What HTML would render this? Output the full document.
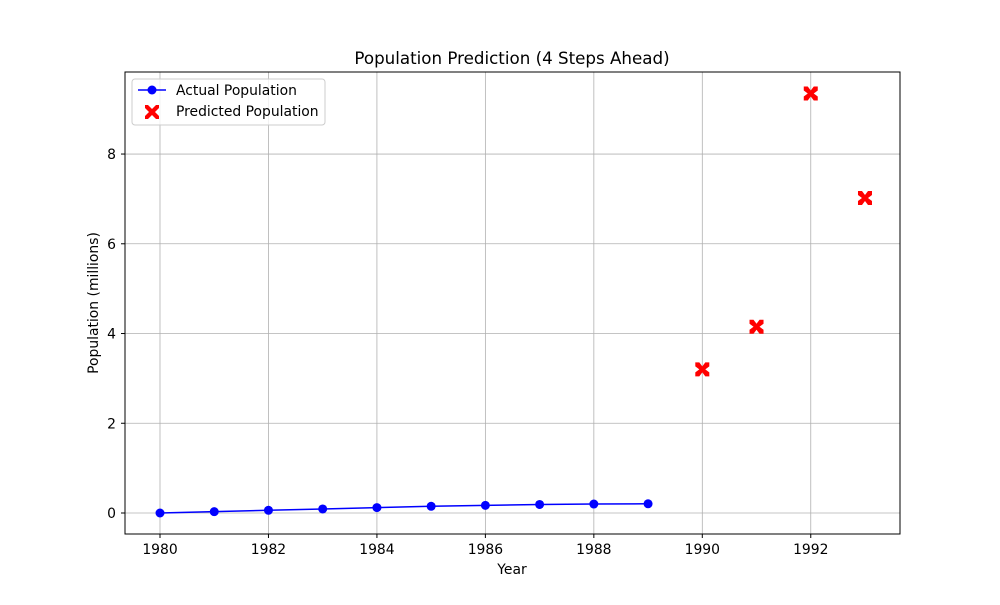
<!DOCTYPE html>
<html><head><meta charset="utf-8"><style>
body{margin:0;background:#fff;}
svg{font-family:"DejaVu Sans","Liberation Sans",sans-serif;}
</style></head><body>
<svg id="chart" width="1000" height="600" xmlns="http://www.w3.org/2000/svg">
<rect width="1000" height="600" fill="#fff"/>
<text x="512" y="64" font-size="16.7" text-anchor="middle">Population Prediction (4 Steps Ahead)</text>
<g id="grid"></g>
<g id="series"></g>
<rect x="125" y="72" width="775" height="462" fill="none" stroke="#000" stroke-width="1"/>
<g id="ticks"></g>
<text x="512" y="574" font-size="13.9" text-anchor="middle">Year</text>
<text transform="translate(98,303) rotate(-90)" font-size="13.9" text-anchor="middle">Population (millions)</text>
<g>
<rect x="132" y="79" width="193" height="46" fill="#fff" fill-opacity="0.8" stroke="#ccc" rx="3"/>
<g>
<line x1="138" y1="90" x2="166" y2="90" stroke="#0000ff" stroke-width="1.5"/>
<circle cx="152" cy="90" r="4.5" fill="#0000ff"/>
<text x="176" y="95" font-size="13.9">Actual Population</text></g>
<g>
<path d="M145,105 L148,105 L152,109 L156,105 L159,105 L159,108 L155,112 L159,116 L159,119 L156,119 L152,115 L148,119 L145,119 L145,116 L149,112 L145,108 Z" fill="#ff0000"/>
<text x="176" y="116" font-size="13.9">Predicted Population</text></g>
</g>
</svg>
<script>
const years=[1980,1981,1982,1983,1984,1985,1986,1987,1988,1989];
const actual=[0,0.03,0.06,0.09,0.12,0.15,0.17,0.19,0.2,0.205];
const predYears=[1990,1991,1992,1993];
const predicted=[3.2,4.15,9.35,7.02];
const xTicks=[1980,1982,1984,1986,1988,1990,1992];
const yTicks=[0,2,4,6,8];
const NS="http://www.w3.org/2000/svg";
function X(v){return 160+(v-1980)*54.23;}
function Y(v){return 513-v*44.87;}
function mk(tag,attrs,parent){const e=document.createElementNS(NS,tag);for(const k in attrs)e.setAttribute(k,attrs[k]);parent.appendChild(e);return e;}
const grid=document.getElementById('grid'),ticks=document.getElementById('ticks'),ser=document.getElementById('series');
xTicks.forEach(t=>{
 const g=mk('line',{x1:X(t),x2:X(t),y1:72,y2:534,stroke:'#b0b0b0','stroke-width':0.8},grid);
 
 
 mk('line',{x1:X(t),x2:X(t),y1:534,y2:538,stroke:'#000'},ticks);
 const l=mk('text',{x:X(t),y:554,'font-size':13.9,'text-anchor':'middle'},ticks);l.textContent=t;
 
 
});
yTicks.forEach(t=>{
 const g=mk('line',{x1:125,x2:900,y1:Y(t),y2:Y(t),stroke:'#b0b0b0','stroke-width':0.8},grid);
 
 
 mk('line',{x1:121,x2:125,y1:Y(t),y2:Y(t),stroke:'#000'},ticks);
 const l=mk('text',{x:116,y:Y(t)+5,'font-size':13.9,'text-anchor':'end'},ticks);l.textContent=t;
 
 
});
const line=mk('polyline',{points:years.map((y,i)=>X(y)+','+Y(actual[i])).join(' '),fill:'none',stroke:'#0000ff','stroke-width':1.5},ser);


years.forEach((y,i)=>{const c=mk('circle',{cx:X(y),cy:Y(actual[i]),r:4.5,fill:'#0000ff'},ser);
 
 });
predYears.forEach((y,i)=>{const cx=X(y),cy=Y(predicted[i]);
 const p=mk('path',{d:`M${cx-7},${cy-7} L${cx-3},${cy-7} L${cx},${cy-3} L${cx+3},${cy-7} L${cx+7},${cy-7} L${cx+7},${cy-3} L${cx+3},${cy} L${cx+7},${cy+3} L${cx+7},${cy+7} L${cx+3},${cy+7} L${cx},${cy+3} L${cx-3},${cy+7} L${cx-7},${cy+7} L${cx-7},${cy+3} L${cx-3},${cy} L${cx-7},${cy-3} Z`,fill:'#ff0000'},ser);
 
 });
</script>
</body></html>
